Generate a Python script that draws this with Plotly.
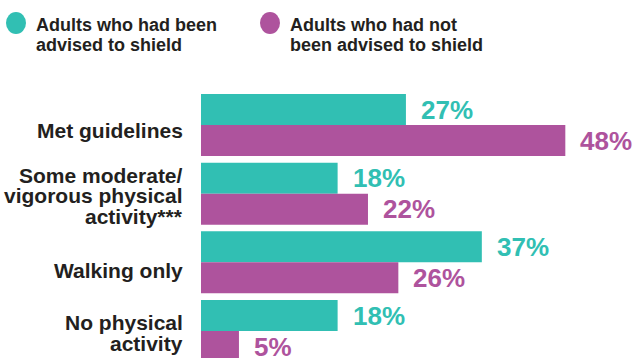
import plotly.graph_objects as go

categories = ["Met guidelines", "Some moderate/<br>vigorous physical<br>activity***", "Walking only", "No physical<br>activity"]
shielded = [27, 18, 37, 18]
not_shielded = [48, 22, 26, 5]
series_names = ["Adults who had been<br>advised to shield", "Adults who had not<br>been advised to shield"]
colors = ["#31BFB3", "#AE539D"]
text_color = "#231F20"

W, H = 635, 358
L, T = 201, 90
BARGAP = 0.097
FONT = "Liberation Sans, Arial, sans-serif"

idx = list(range(len(categories)))
fig = go.Figure()
for vals, name, col in zip([shielded, not_shielded], series_names, colors):
    fig.add_trace(go.Bar(x=vals, y=idx, orientation="h", name=name, marker=dict(color=col, line=dict(width=0)),
                         showlegend=False, hoverinfo="skip"))

annotations = []
half = (1 - BARGAP) / 4
for s, (vals, col) in enumerate(zip([shielded, not_shielded], colors)):
    off = -half if s == 0 else half
    for i, v in enumerate(vals):
        annotations.append(dict(x=v, y=i + off, xref="x", yref="y", text=f"<b>{v}%</b>", showarrow=False,
                                xanchor="left", yanchor="middle", xshift=13,
                                font=dict(family=FONT, size=26, color=col)))

# category labels, one annotation per line for tight line spacing
label_dy = [5, 2, 8, 2]
for i, lab in enumerate(categories):
    lines = lab.split("<br>")
    n = len(lines)
    for k, line in enumerate(lines):
        annotations.append(dict(x=0, y=i, xref="x", yref="y", text=f"<b>{line}</b>", showarrow=False,
                                xanchor="right", yanchor="middle", xshift=-16,
                                yshift=-((k - (n - 1) / 2) * 20.5 + label_dy[i]),
                                font=dict(family=FONT, size=21, color=text_color)))

# legend
shapes = []
legend_x = [16, 270]
for (cx, name, col) in zip(legend_x, series_names, colors):
    cy = 23
    shapes.append(dict(type="circle", xref="paper", yref="paper", xsizemode="pixel", ysizemode="pixel",
                       xanchor=0, yanchor=1, x0=cx - 10 - L, x1=cx + 10 - L, y0=T - (cy + 11), y1=T - (cy - 11),
                       fillcolor=col, line=dict(width=0)))
    for k, line in enumerate(name.split("<br>")):
        py = 25 + 20 * k
        annotations.append(dict(x=0, y=1, xref="paper", yref="paper", text=f"<b>{line}</b>", showarrow=False,
                                xanchor="left", yanchor="middle", xshift=cx + 18 - L, yshift=T - py,
                                font=dict(family=FONT, size=18, color=text_color)))

px_per_unit = 68.67
y_top = (T - 125) / px_per_unit
y_bot = (H - 125) / px_per_unit
x_max = (W - L) / 7.59

fig.update_layout(
    width=W, height=H, margin=dict(l=L, r=0, t=T, b=0),
    paper_bgcolor="white", plot_bgcolor="white",
    barmode="group", bargap=BARGAP, bargroupgap=0,
    xaxis=dict(range=[0, x_max], visible=False, fixedrange=True),
    yaxis=dict(range=[y_bot, y_top], visible=False, fixedrange=True),
    annotations=annotations, shapes=shapes,
)
fig.write_html("out.html", config={"displayModeBar": False},
               post_script="document.body.style.margin='0';document.body.style.overflow='hidden';")
